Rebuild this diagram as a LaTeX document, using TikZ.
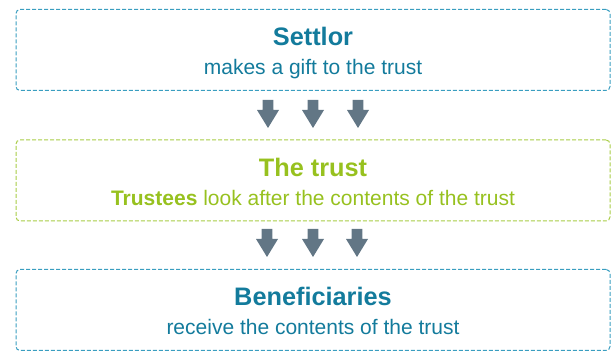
\documentclass[tikz,border=0pt]{standalone}
\usepackage{fontspec}
\setmainfont{Liberation Sans}
\definecolor{tblue}{HTML}{137B9C}
\definecolor{bblue}{HTML}{3A9EC0}
\definecolor{tgreen}{HTML}{97C11F}
\definecolor{bgreen}{HTML}{A8CC45}
\definecolor{agray}{HTML}{627685}
\begin{document}
\begin{tikzpicture}[x=1pt,y=-1pt,
  box/.style={draw, line width=1pt, dash pattern=on 4pt off 2pt, rounded corners=4pt,
    minimum width=594pt, minimum height=81pt, inner sep=0pt},
  title/.style={anchor=base, font=\fontsize{25.3}{30}\selectfont\bfseries, inner sep=0pt},
  sub/.style={anchor=base, font=\fontsize{21}{25}\selectfont, inner sep=0pt},
  blockarrow/.style={fill=agray}]
\useasboundingbox (0,0) rectangle (616,352);
\node[box, draw=bblue] (settlor) at (313,50) {};
\node[title, text=tblue] (settlorT) at (313,46) {Settlor};
\node[sub, text=tblue] (settlorS) at (313,75) {makes a gift to the trust};
\node[box, draw=bgreen] (trust) at (313,180.5) {};
\node[title, text=tgreen] (trustT) at (313,177) {The trust};
\node[sub, text=tgreen] (trustS) at (313,206) {\textbf{Trustees} look after the contents of the trust};
\node[box, draw=bblue] (benef) at (313,310) {};
\node[title, text=tblue] (benefT) at (313,306) {Beneficiaries};
\node[sub, text=tblue] (benefS) at (313,335) {receive the contents of the trust};
\foreach \cx/\ty in {268/100, 313/100, 358/100, 267/229, 313/229, 357/229}{
  \fill[blockarrow] (\cx-5.3,\ty) -- (\cx+5.3,\ty) -- (\cx+5.3,\ty+10) -- (\cx+11,\ty+10)
    -- (\cx,\ty+28) -- (\cx-11,\ty+10) -- (\cx-5.3,\ty+10) -- cycle;
}
\end{tikzpicture}
\end{document}
